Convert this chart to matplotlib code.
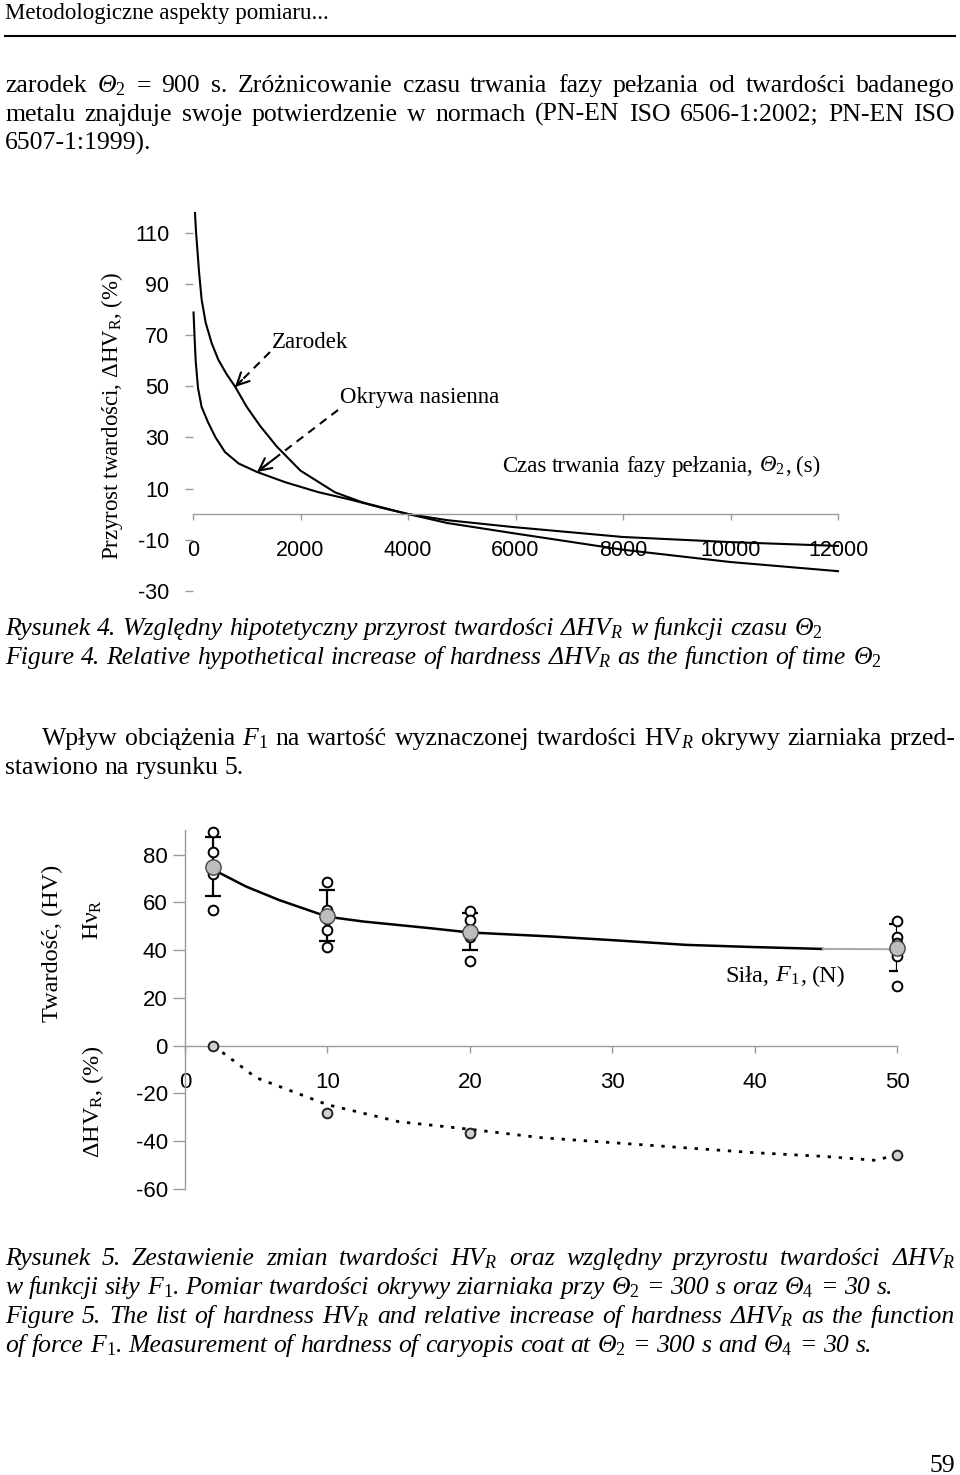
import matplotlib
matplotlib.use('Agg')
import matplotlib.pyplot as plt
from matplotlib.lines import Line2D

plt.rcParams['font.family'] = ['Liberation Sans', 'DejaVu Sans']
plt.rcParams['mathtext.fontset'] = 'custom'
plt.rcParams['mathtext.rm'] = 'Liberation Serif'
plt.rcParams['mathtext.it'] = 'Liberation Serif:italic'
plt.rcParams['mathtext.bf'] = 'Liberation Serif:bold'
plt.rcParams['axes.unicode_minus'] = False

SERIF = ['Liberation Serif', 'DejaVu Serif']

# ---------------- Figure 4 data ----------------
t_zarodek = [37, 55, 80, 112, 161, 236, 347, 471, 620, 781, 1000, 1250, 1557, 2000,
             2642, 3163, 4000, 4726, 5953, 8000, 9991, 12000]
dhv_zarodek = [118, 111, 104, 95, 84, 75, 67, 60.5, 55, 50, 42, 34.5, 26.5, 17,
               8.5, 4.5, 0, -3.5, -7.5, -14, -18.8, -22.4]
t_okrywa = [10, 20, 30, 50, 93, 160, 279, 420, 595, 850, 1190, 1712, 2326, 2958,
            3516, 4000, 4726, 5953, 8000, 9991, 12000]
dhv_okrywa = [79, 74, 69, 60, 49.4, 42, 36, 30, 24.3, 19.8, 16.5, 12.5, 8.6, 5.5,
              2.4, 0, -2.4, -5.1, -9, -11, -12.5]
fig4_yticks = [-30, -10, 10, 30, 50, 70, 90, 110]
fig4_xticks = [0, 2000, 4000, 6000, 8000, 10000, 12000]

# ---------------- Figure 5 data ----------------
force = [2, 10, 20, 50]
hv_mean = [75, 54.5, 47.7, 41]
hv_sd = [12.2, 10.7, 7.8, 9.8]
hv_f2 = [89.5, 81, 72, 57]
hv_f10 = [68.6, 57, 53, 48.5, 41.4]
hv_f20 = [56.5, 52.7, 45.7, 35.3]
hv_f50 = [52, 45.6, 43, 37.7, 25]
dhv_points = [0, -28, -36.5, -45.6]
fit_force = [2, 2.7, 4.3, 6.6, 10, 12.5, 17.2, 20, 25.8, 30.5, 35.2, 39.9, 44.8]
fit_hv = [73.6, 71.5, 66.6, 61, 54, 52, 49.2, 47.4, 45.7, 44, 42.2, 41.3, 40.5]
fit_ext_force = [44.8, 49.5]
fit_ext_hv = [40.5, 40.4]
fit_dhv_force = [2, 5, 10, 15, 20, 25, 30, 35, 40, 45, 48.5, 50]
fit_dhv = [0, -13.4, -24.7, -31.8, -35, -38.5, -40.6, -42.7, -44.8, -46.4, -48, -45.6]
fig5_yticks = [-60, -40, -20, 0, 20, 40, 60, 80]
fig5_xticks = [0, 10, 20, 30, 40, 50]

# ---------------- Page text ----------------
# '~' toggles italic for a run, '|' joins runs without a space
header = "Metodologiczne aspekty pomiaru..."
body = [
    "zarodek ~Θ$_2$ = 900 s. Zróżnicowanie czasu trwania fazy pełzania od twardości badanego",
    "metalu znajduje swoje potwierdzenie w normach (PN-EN ISO 6506-1:2002; PN-EN ISO",
    "6507-1:1999).",
]
caption4 = [
    "Rysunek 4. Względny hipotetyczny przyrost twardości ΔHV$_R$ w funkcji czasu Θ$_2$",
    "Figure 4. Relative hypothetical increase of hardness ΔHV$_R$ as the function of time Θ$_2$",
]
para = [
    "Wpływ obciążenia ~F$_1$ na wartość wyznaczonej twardości HV$_R$ okrywy ziarniaka przed-",
    "stawiono na rysunku 5.",
]
caption5 = [
    "Rysunek 5. Zestawienie zmian twardości HV$_R$ oraz względny przyrostu twardości ΔHV$_R$",
    "w funkcji siły F$_1$. Pomiar twardości okrywy ziarniaka przy Θ$_2$ = 300 s oraz Θ$_4$ = 30 s.",
    "Figure 5. The list of hardness HV$_R$ and relative increase of hardness ΔHV$_R$ as the function",
    "of force F$_1$. Measurement of hardness of caryopis coat at Θ$_2$ = 300 s and Θ$_4$ = 30 s.",
]
label_time = "Czas trwania fazy pełzania, ~Θ$_2$|, (s)"
label_force = "Siła, ~F$_1$|, (N)"

W, H = 960, 1475
fig = plt.figure(figsize=(W / 100, H / 100), dpi=100)
renderer = fig.canvas.get_renderer()


def fx(x):
    return x / W


def fy(y):
    return 1 - y / H


def _width(s, size, italic):
    a = fig.text(0, 0, s, fontsize=size, style='italic' if italic else 'normal', family=SERIF)
    w = a.get_window_extent(renderer).width
    a.remove()
    return w


def render_token(token, size, base_italic):
    arts, widths = [], []
    for r in token.split('|'):
        it = base_italic
        if r.startswith('~'):
            it = not it
            r = r[1:]
        a = fig.text(0, 0, r, fontsize=size, style='italic' if it else 'normal',
                     family=SERIF, ha='left', va='baseline')
        arts.append(a)
        widths.append(a.get_window_extent(renderer).width)
    return arts, widths


def text_line(s, x0, y, size, italic=False, x1=None):
    tokens = s.split(' ')
    items = [render_token(t, size, italic) for t in tokens]
    tw = [sum(ws) for _, ws in items]
    if x1 is None or len(tokens) < 2:
        gap = _width('x x', size, italic) - _width('xx', size, italic)
    else:
        gap = (x1 - x0 - sum(tw)) / (len(tokens) - 1)
    x = x0
    for (arts, ws), w in zip(items, tw):
        xx = x
        for a, wi in zip(arts, ws):
            a.set_position((fx(xx), fy(y)))
            xx += wi
        x += w + gap


BODY = 18.5
# header
fig.text(fx(5), fy(19), header, fontsize=16.5, family=SERIF, ha='left', va='baseline')
fig.add_artist(Line2D([fx(5), fx(955)], [fy(36), fy(36)], lw=1.5, color='black',
                      transform=fig.transFigure))
# body
text_line(body[0], 5, 92, BODY, x1=955)
text_line(body[1], 5, 121, BODY, x1=955)
text_line(body[2], 5, 150, BODY)
# caption 4
text_line(caption4[0], 5, 635, BODY, italic=True)
text_line(caption4[1], 5, 664, BODY, italic=True)
# paragraph
text_line(para[0], 42, 745, BODY, x1=955)
text_line(para[1], 5, 774, BODY)
# caption 5
text_line(caption5[0], 5, 1265, BODY, italic=True, x1=955)
text_line(caption5[1], 5, 1294, BODY, italic=True)
text_line(caption5[2], 5, 1323, BODY, italic=True, x1=955)
text_line(caption5[3], 5, 1352, BODY, italic=True)
# page number
fig.text(fx(955), fy(1472), "59", fontsize=BODY, family=SERIF, ha='right', va='baseline')

GREY = '#9a9a9a'

# ---------------- Figure 4 ----------------
ax1 = fig.add_axes([fx(193), fy(600), (838 - 193) / W, (600 - 213) / H])
ax1.set_xlim(0, 12000)
ax1.set_ylim(-33.7, 118)
ax1.plot(t_zarodek, dhv_zarodek, color='black', lw=1.5, clip_on=False)
ax1.plot(t_okrywa, dhv_okrywa, color='black', lw=1.5, clip_on=False)
for s in ['top', 'right', 'left']:
    ax1.spines[s].set_visible(False)
ax1.spines['bottom'].set_position(('data', 0))
ax1.spines['bottom'].set_color(GREY)
ax1.spines['bottom'].set_linewidth(1.0)
ax1.set_yticks(fig4_yticks)
ax1.set_xticks(fig4_xticks)
ax1.tick_params(axis='y', length=6, width=1, color=GREY, pad=11, labelsize=15.5)
ax1.tick_params(axis='x', direction='out', length=4.5, width=1, color=GREY, pad=14, labelsize=15.5)
ax1.patch.set_alpha(0)

fig.text(fx(112), fy(416), "Przyrost twardości, ΔHV$_\\mathrm{R}$, (%)", rotation=90,
         fontsize=16.5, family=SERIF, ha='center', va='center')
fig.text(fx(272), fy(348), "Zarodek", fontsize=16.5, family=SERIF, ha='left', va='baseline')
fig.text(fx(340), fy(403), "Okrywa nasienna", fontsize=16.5, family=SERIF, ha='left', va='baseline')
text_line(label_time, 502, 472, 16.5)


def dashed_arrow(x0, y0, x1, y1):
    fig.add_artist(Line2D([fx(x0), fx(x1)], [fy(y0), fy(y1)], lw=1.5, ls=(0, (4, 3)),
                          color='black', transform=fig.transFigure))
    ax1.annotate('', xy=(fx(x1), fy(y1)), xycoords='figure fraction',
                 xytext=(fx(x1 + (x0 - x1) * 0.2), fy(y1 + (y0 - y1) * 0.2)),
                 textcoords='figure fraction',
                 arrowprops=dict(arrowstyle='->', lw=1.5, color='black',
                                 mutation_scale=22, shrinkA=0, shrinkB=0))


dashed_arrow(270, 352, 235, 387)
dashed_arrow(338, 410, 257, 472)

# ---------------- Figure 5 ----------------
ax2 = fig.add_axes([fx(185), fy(1189), (897 - 185) / W, (1189 - 830) / H])
ax2.set_xlim(0, 50)
ax2.set_ylim(-60, 90.3)
ax2.plot(fit_force, fit_hv, color='black', lw=1.8, zorder=2)
ax2.plot(fit_ext_force, fit_ext_hv, color='#aaaaaa', lw=1.5, zorder=2)
ax2.errorbar(force, hv_mean, yerr=hv_sd, fmt='none', ecolor='black', elinewidth=1.6,
             capsize=6, capthick=1.6, zorder=3)
for fval, pts in zip(force, [hv_f2, hv_f10, hv_f20, hv_f50]):
    ax2.plot([fval] * len(pts), pts, ls='none', marker='o', ms=7, mfc='white',
             mec='black', mew=1.4, zorder=4, clip_on=False)
ax2.plot(force, hv_mean, ls='none', marker='o', ms=11, mfc='#bdbdbd', mec='#444444',
         mew=1.0, zorder=5, clip_on=False)
ax2.plot(fit_dhv_force, fit_dhv, color='black', lw=2.0, ls=(0, (1.2, 2.8)), zorder=2)
ax2.plot(force, dhv_points, ls='none', marker='o', ms=7, mfc='#cfcfcf', mec='#222222',
         mew=1.4, zorder=4, clip_on=False)
for s in ['top', 'right']:
    ax2.spines[s].set_visible(False)
ax2.spines['left'].set_color(GREY)
ax2.spines['left'].set_linewidth(1.0)
ax2.spines['bottom'].set_position(('data', 0))
ax2.spines['bottom'].set_color(GREY)
ax2.spines['bottom'].set_linewidth(1.0)
ax2.set_yticks(fig5_yticks)
ax2.set_xticks(fig5_xticks)
ax2.tick_params(axis='y', length=8.5, width=1, color=GREY, pad=4, labelsize=16)
ax2.tick_params(axis='x', direction='out', length=5, width=1, color=GREY, pad=14, labelsize=16)
ax2.patch.set_alpha(0)

fig.text(fx(52), fy(943), "Twardość, (HV)", rotation=90, fontsize=17.5, family=SERIF,
         ha='center', va='center')
fig.text(fx(93), fy(920), "Ην$_\\mathrm{R}$", rotation=90, fontsize=17, family=SERIF,
         ha='center', va='center')
fig.text(fx(93), fy(1102), "ΔHV$_\\mathrm{R}$, (%)", rotation=90, fontsize=17.5, family=SERIF,
         ha='center', va='center')
text_line(label_force, 725, 982, 17.5)

fig.savefig('out.png', dpi=100)
